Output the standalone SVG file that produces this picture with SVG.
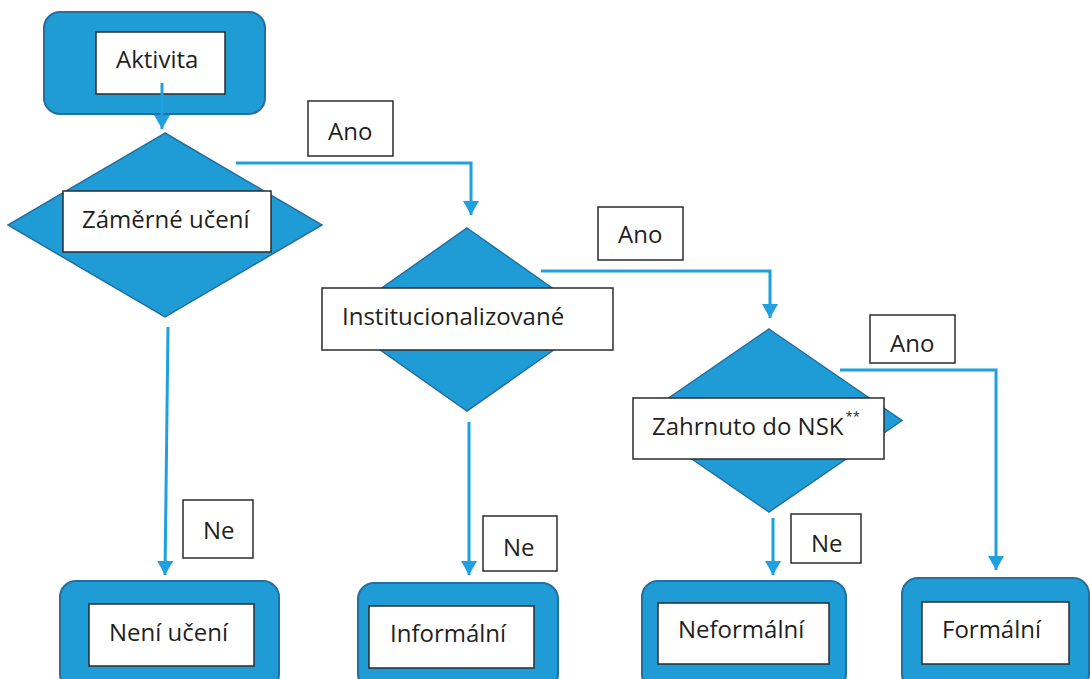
<svg xmlns="http://www.w3.org/2000/svg" width="1090" height="679" viewBox="0 0 1090 679">
<defs>
<style>
.outer{fill:#1f9bd6;stroke:#236fa1;stroke-width:2}
.dia{fill:#1f9bd6;stroke:#236fa1;stroke-width:1.5}
.lbl{fill:#ffffff;stroke:#2b2b2b;stroke-width:1.5}
.t{font-family:"Open Sans","Noto Sans","Liberation Sans",sans-serif;font-size:24px;fill:#231f20}
.sup{font-family:"Open Sans","Noto Sans","Liberation Sans",sans-serif;font-size:13px;fill:#231f20}
.con{fill:none;stroke:#1fa0e0;stroke-width:3}
</style>
<marker id="ah" markerUnits="userSpaceOnUse" markerWidth="16" markerHeight="16" refX="14" refY="8" orient="auto">
<path d="M0,0 L14,8 L0,16 z" fill="#1fa0e0"/>
</marker>
</defs>
<rect width="1090" height="679" fill="#ffffff"/>
<g id="aktivita">
<rect class="outer" x="44" y="12" width="221" height="102" rx="16"/>
<rect class="lbl" x="96" y="32" width="129" height="62"/>
<text class="t" x="116" y="68">Aktivita</text>
</g>
<g id="zamerne">
<polygon class="dia" points="165,133 322,225 165,317 8,225"/>
<rect class="lbl" x="63" y="191" width="208" height="61"/>
<text class="t" x="82" y="228">Záměrné učení</text>
</g>
<g id="instit">
<polygon class="dia" points="467,228 597,319.5 467,411 337,319.5"/>
<rect class="lbl" x="322" y="288" width="291" height="62"/>
<text class="t" x="342" y="325">Institucionalizované</text>
</g>
<g id="nsk">
<polygon class="dia" points="769,329 902,420.5 769,512 636,420.5"/>
<rect class="lbl" x="633" y="398" width="251" height="61"/>
<text class="t" x="652" y="435">Zahrnuto do NSK<tspan class="sup" dx="2" dy="-14">**</tspan></text>
</g>
<g id="ano1">
<rect class="lbl" x="308" y="101" width="85" height="55"/>
<text class="t" x="328" y="140">Ano</text>
</g>
<g id="ano2">
<rect class="lbl" x="598" y="207" width="85" height="53"/>
<text class="t" x="618" y="243">Ano</text>
</g>
<g id="ano3">
<rect class="lbl" x="870" y="315" width="85" height="48"/>
<text class="t" x="890" y="352">Ano</text>
</g>
<g id="ne1">
<rect class="lbl" x="183" y="500" width="70" height="58"/>
<text class="t" x="203" y="539">Ne</text>
</g>
<g id="ne2">
<rect class="lbl" x="483" y="516" width="74" height="55"/>
<text class="t" x="503" y="556">Ne</text>
</g>
<g id="ne3">
<rect class="lbl" x="791" y="514" width="70" height="49"/>
<text class="t" x="811" y="552">Ne</text>
</g>
<g id="neni">
<rect class="outer" x="60" y="581" width="219" height="109" rx="16"/>
<rect class="lbl" x="89" y="604" width="165" height="62"/>
<text class="t" x="109" y="641">Není učení</text>
</g>
<g id="informalni">
<rect class="outer" x="358" y="583" width="200" height="107" rx="16"/>
<rect class="lbl" x="369" y="606" width="165" height="62"/>
<text class="t" x="390" y="642">Informální</text>
</g>
<g id="neformalni">
<rect class="outer" x="642" y="581" width="204" height="109" rx="16"/>
<rect class="lbl" x="658" y="603" width="171" height="61"/>
<text class="t" x="678" y="638">Neformální</text>
</g>
<g id="formalni">
<rect class="outer" x="902" y="578" width="187" height="112" rx="16"/>
<rect class="lbl" x="922" y="602" width="147" height="62"/>
<text class="t" x="942" y="638">Formální</text>
</g>
<g id="connectors">
<path class="con" d="M162,83 V129" marker-end="url(#ah)"/>
<path class="con" d="M236,163 H471 V215" marker-end="url(#ah)"/>
<path class="con" d="M541,271 H770 V318" marker-end="url(#ah)"/>
<path class="con" d="M840,370 H996 V570" marker-end="url(#ah)"/>
<path class="con" d="M168,327 L165,575" marker-end="url(#ah)"/>
<path class="con" d="M469,422 V575" marker-end="url(#ah)"/>
<path class="con" d="M773,518 V575" marker-end="url(#ah)"/>
</g>
</svg>
